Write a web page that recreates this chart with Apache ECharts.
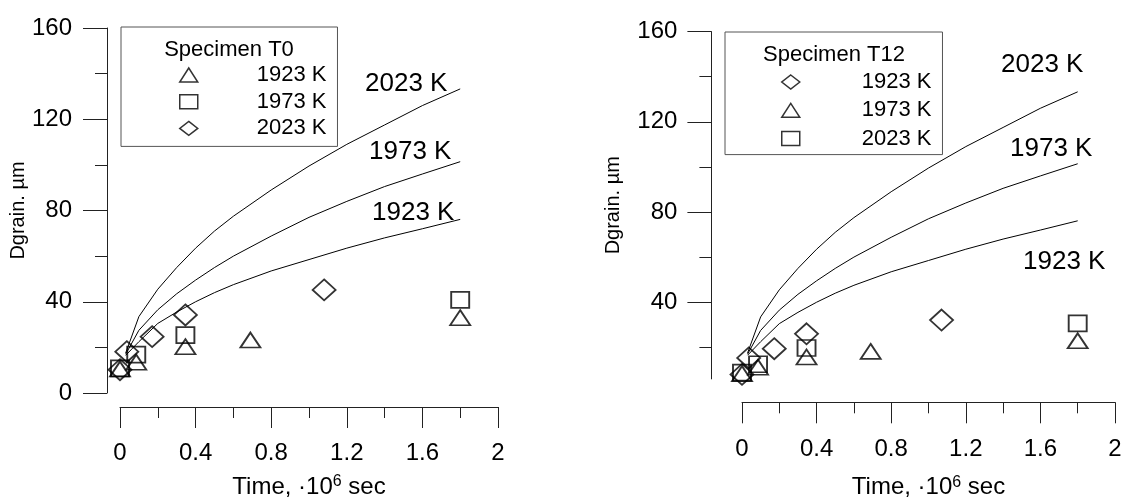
<!DOCTYPE html>
<html>
<head>
<meta charset="utf-8">
<script src="https://cdn.jsdelivr.net/npm/echarts@6/dist/echarts.min.js"></script>
<style>
  html, body { margin: 0; padding: 0; background: #fff; }
  #chart { width: 1122px; height: 497px; }
</style>
</head>
<body>
<div id="chart"></div>
<script>
// model curves (same in both panels), time in 10^6 s, D in um
var curveTime = [0.03, 0.1, 0.2, 0.3, 0.4, 0.5, 0.6, 0.8, 1.0, 1.2, 1.4, 1.6, 1.8];
var curve2023 = [17.5, 33.5, 45.5, 55, 63.5, 71, 77.5, 89, 99.5, 109, 117.5, 126, 133.3];
var curve1973 = [17, 27.5, 36.5, 43.5, 49.5, 55, 60, 68.8, 77, 84, 90.5, 96, 101.4];
var curve1923 = [16.5, 22.5, 30.5, 35.5, 40, 44, 47.5, 53.5, 58.5, 63.5, 68, 72, 76.1];

// Specimen T0
var t0Time1923 = [0, 0.086, 0.346, 0.69, 1.8];
var t0D1923 = [10.5, 13.5, 20.3, 23.2, 33];
var t0Time1973 = [0, 0.086, 0.346, 1.8];
var t0D1973 = [10.8, 16.8, 25.4, 40.8];
var t0Time2023 = [0, 0.036, 0.17, 0.346, 1.08];
var t0D2023 = [10.2, 18.1, 24.7, 34.2, 45.2];

// Specimen T12
var t12Time1923 = [0, 0.036, 0.173, 0.346, 1.07];
var t12D1923 = [8, 15.3, 19.4, 26, 32.1];
var t12Time1973 = [0, 0.086, 0.346, 0.69, 1.8];
var t12D1973 = [8.3, 11.2, 15.7, 18.2, 22.9];
var t12Time2023 = [0, 0.086, 0.346, 1.8];
var t12D2023 = [8.8, 12.5, 19.7, 30.6];

var curveNames = ["2023 K", "1973 K", "1923 K"];
var yMajor = [40, 80, 120, 160];
var yMinor = [20, 60, 100, 140];

var FONT = "Liberation Sans";
var axisColor = "#222";

function pairs(xs, ys) {
  return xs.map(function(x, i) { return [x, ys[i]]; });
}

function scatter(name, xs, ys, symbol, size, xi, yi) {
  return {
    name: name,
    type: "scatter",
    xAxisIndex: xi,
    yAxisIndex: yi,
    data: pairs(xs, ys),
    symbol: symbol,
    symbolSize: size,
    clip: false,
    silent: true,
    z: 3,
    itemStyle: { color: "transparent", borderColor: "#000", borderWidth: 1.8 },
  };
}

function curve(ys, xi, yi) {
  return {
    type: "line",
    xAxisIndex: xi,
    yAxisIndex: yi,
    data: pairs(curveTime, ys),
    showSymbol: false,
    symbol: "none",
    clip: false,
    silent: true,
    z: 2,
    lineStyle: { color: "#000", width: 1 },
  };
}

function xAxis(grid, offset, gap, margin) {
  return {
    type: "value",
    gridIndex: grid,
    position: "bottom",
    min: 0,
    max: 2,
    interval: 0.4,
    offset: offset,
    name: "Time, ·10{sup|6} sec",
    nameLocation: "middle",
    nameGap: gap,
    nameTextStyle: {
      fontFamily: FONT,
      fontSize: 24,
      color: "#000",
      lineHeight: 26,
      rich: {
        sup: { fontFamily: FONT, fontSize: 16, color: "#000", verticalAlign: "top", lineHeight: 14 },
      },
    },
    splitLine: { show: false },
    axisLine: { onZero: false, lineStyle: { color: axisColor, width: 1 } },
    axisTick: { length: 21, lineStyle: { color: axisColor } },
    minorTick: { show: true, splitNumber: 2, length: 11, lineStyle: { color: axisColor } },
    axisLabel: { margin: margin, fontFamily: FONT, fontSize: 24, color: "#000" },
  };
}

function legendFor(names, left, top, pad, textPad, gap) {
  return {
    orient: "vertical",
    left: left,
    top: top,
    padding: pad,
    itemGap: gap,
    itemWidth: 18,
    itemHeight: 14,
    selectedMode: false,
    borderColor: "#555",
    borderWidth: 1,
    data: names,
    formatter: function(name) {
      return name.replace(/^T\d+ /, "");
    },
    itemStyle: { color: "transparent", borderColor: "#000", borderWidth: 1.5 },
    textStyle: {
      fontFamily: FONT,
      fontSize: 22,
      color: "#000",
      lineHeight: 22,
      padding: [0, 0, 0, textPad],
    },
  };
}

var chart = echarts.init(document.getElementById("chart"), null, { renderer: "canvas" });

var option = {
  animation: false,
  backgroundColor: "#fff",
  grid: [
    { left: 120, top: 28, width: 378, height: 365, outerBoundsMode: "none", containLabel: false },
    { left: 742, top: 31.6, width: 373, height: 347.3, outerBoundsMode: "none", containLabel: false },
  ],
  xAxis: [xAxis(0, 14, 67, 34.5), xAxis(1, 23.4, 72, 35)],
  yAxis: [
    {
      type: "value",
      gridIndex: 0,
      position: "left",
      min: 0,
      max: 160,
      interval: 40,
      offset: 13,
      name: "Dgrain. µm",
      nameLocation: "middle",
      nameGap: 70,
      nameTextStyle: { fontFamily: FONT, fontSize: 20, color: "#000" },
      splitLine: { show: false },
      axisLine: { onZero: false, lineStyle: { color: axisColor, width: 1 } },
      axisTick: { length: 24, lineStyle: { color: axisColor } },
      minorTick: { show: true, splitNumber: 2, length: 12, lineStyle: { color: axisColor } },
      axisLabel: { margin: 35, fontFamily: FONT, fontSize: 24, color: "#000" },
    },
    {
      type: "value",
      gridIndex: 1,
      position: "left",
      min: 6,
      max: 160,
      offset: 30.6,
      name: "Dgrain. µm",
      nameLocation: "middle",
      nameGap: 88,
      nameTextStyle: { fontFamily: FONT, fontSize: 20, color: "#000" },
      splitLine: { show: false },
      axisLine: { onZero: false, lineStyle: { color: axisColor, width: 1 } },
      axisTick: { length: 24, customValues: yMajor, lineStyle: { color: axisColor } },
      axisLabel: { margin: 34, customValues: yMajor, fontFamily: FONT, fontSize: 24, color: "#000" },
    },
    {
      // minor ticks of the right panel
      type: "value",
      gridIndex: 1,
      position: "left",
      min: 6,
      max: 160,
      offset: 30.6,
      splitLine: { show: false },
      axisLine: { show: false, onZero: false },
      axisTick: { length: 12, customValues: yMinor, lineStyle: { color: axisColor } },
      axisLabel: { show: false },
    },
  ],
  legend: [
    legendFor(["T0 1923 K", "T0 1973 K", "T0 2023 K"], 121, 27, [37, 11, 7, 58], 54, 4.7),
    legendFor(["T12 1923 K", "T12 1973 K", "T12 2023 K"], 725, 32, [39, 11, 5, 56], 57, 6.3),
  ],
  graphic: [
    { type: "text", x: 229, y: 50, silent: true,
      style: { text: "Specimen T0", font: "22px " + FONT, fill: "#000", textAlign: "center", textVerticalAlign: "middle" } },
    { type: "text", x: 834, y: 55, silent: true,
      style: { text: "Specimen T12", font: "22px " + FONT, fill: "#000", textAlign: "center", textVerticalAlign: "middle" } },
    { type: "text", x: 365, y: 84, silent: true,
      style: { text: curveNames[0], font: "26px " + FONT, fill: "#000", textVerticalAlign: "middle" } },
    { type: "text", x: 369, y: 152, silent: true,
      style: { text: curveNames[1], font: "26px " + FONT, fill: "#000", textVerticalAlign: "middle" } },
    { type: "text", x: 372, y: 213, silent: true,
      style: { text: curveNames[2], font: "26px " + FONT, fill: "#000", textVerticalAlign: "middle" } },
    { type: "text", x: 1001, y: 65, silent: true,
      style: { text: curveNames[0], font: "26px " + FONT, fill: "#000", textVerticalAlign: "middle" } },
    { type: "text", x: 1010, y: 149, silent: true,
      style: { text: curveNames[1], font: "26px " + FONT, fill: "#000", textVerticalAlign: "middle" } },
    { type: "text", x: 1023, y: 262, silent: true,
      style: { text: curveNames[2], font: "26px " + FONT, fill: "#000", textVerticalAlign: "middle" } },
  ],
  series: [
    curve(curve2023, 0, 0),
    curve(curve1973, 0, 0),
    curve(curve1923, 0, 0),
    scatter("T0 1923 K", t0Time1923, t0D1923, "triangle", [20, 15], 0, 0),
    scatter("T0 1973 K", t0Time1973, t0D1973, "rect", [18, 16], 0, 0),
    scatter("T0 2023 K", t0Time2023, t0D2023, "diamond", [23, 21], 0, 0),

    curve(curve2023, 1, 1),
    curve(curve1973, 1, 1),
    curve(curve1923, 1, 1),
    scatter("T12 1923 K", t12Time1923, t12D1923, "diamond", [23, 21], 1, 1),
    scatter("T12 1973 K", t12Time1973, t12D1973, "triangle", [20, 15], 1, 1),
    scatter("T12 2023 K", t12Time2023, t12D2023, "rect", [18, 16], 1, 1),
  ],
};

chart.setOption(option);
window.addEventListener("resize", function() {
  chart.resize();
});
</script>
</body>
</html>
